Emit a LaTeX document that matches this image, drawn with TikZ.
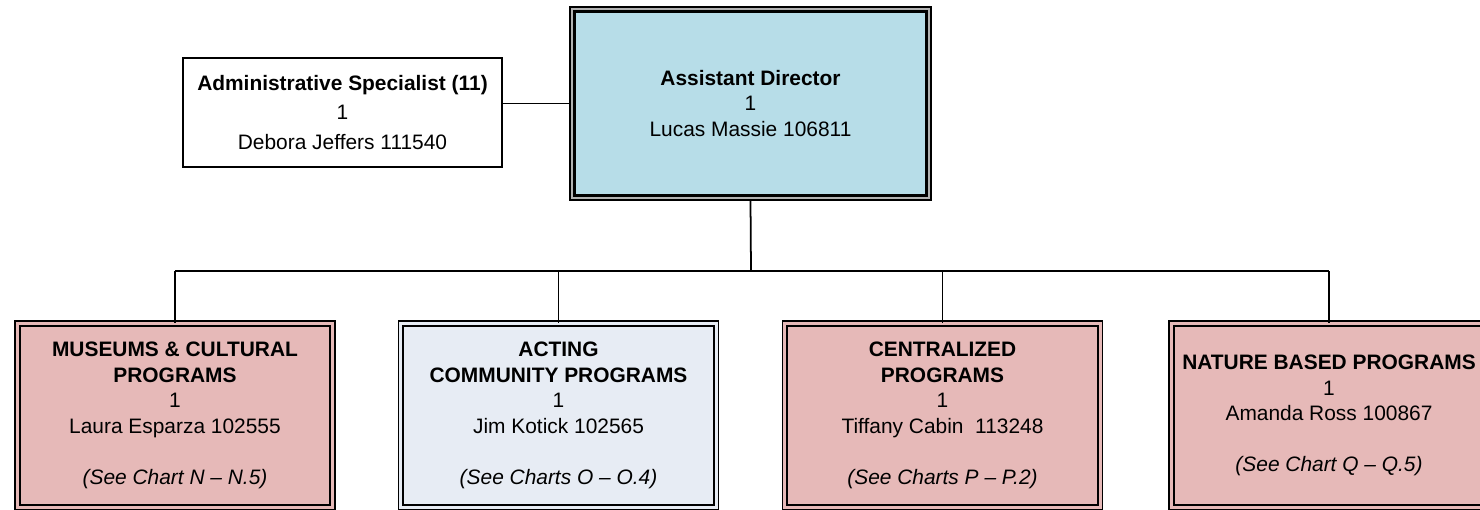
\documentclass[tikz,border=0pt]{standalone}
\usepackage{fontspec}
\setmainfont{Liberation Sans}
\definecolor{headblue}{HTML}{B7DDE8}
\definecolor{unitpink}{HTML}{E6B9B8}
\definecolor{actinggray}{HTML}{E7ECF4}
\begin{document}
\begin{tikzpicture}[x=0.02cm, y=0.02cm,
        every node/.style={align=center, inner sep=0pt, font=\fontsize{11.9}{14.3}\selectfont},
        headbox/.style={draw=black, fill=headblue, line width=2.6pt, minimum width=7.17cm, minimum height=3.81cm},
        sidebox/.style={draw=black, fill=white, line width=0.9pt, minimum width=6.39cm, minimum height=2.19cm, font=\fontsize{11.9}{17}\selectfont},
        unitbox/.style={draw=black, fill=#1, double=#1, line width=1pt, double distance=1.7pt, minimum width=6.31cm, minimum height=3.68cm, font=\fontsize{11.9}{14.5}\selectfont},
        link/.style={line width=1pt}]
    \useasboundingbox (0,0) rectangle (1480,510);
    \clip (0,0) rectangle (1480,510);

    \node[headbox] (ad) at (750.5,406.5) {\textbf{Assistant Director}\\1\\Lucas Massie 106811};
    \draw[black!30, line width=1.1pt] ([shift={(1.9pt,1.9pt)}]ad.south west) rectangle ([shift={(-1.9pt,-1.9pt)}]ad.north east);
    \draw[line width=1.5pt] ([shift={(3.2pt,3.2pt)}]ad.south west) rectangle ([shift={(-3.2pt,-3.2pt)}]ad.north east);
    \node[sidebox] (admin) at (342.5,397.5) {\textbf{Administrative Specialist (11)}\\1\\Debora Jeffers 111540};

    \node[unitbox=unitpink] (museums) at (175,94.6) {\textbf{MUSEUMS \& CULTURAL}\\\textbf{PROGRAMS}\\1\\Laura Esparza 102555\\[14.5pt]\textit{(See Chart N -- N.5)}};
    \node[unitbox=actinggray] (community) at (558.5,94.6) {\textbf{ACTING}\\\textbf{COMMUNITY PROGRAMS}\\1\\Jim Kotick 102565\\[14.5pt]\textit{(See Charts O -- O.4)}};
    \node[unitbox=unitpink] (central) at (942.5,94.6) {\textbf{CENTRALIZED}\\\textbf{PROGRAMS}\\1\\Tiffany Cabin~~113248\\[14.5pt]\textit{(See Charts P -- P.2)}};
    \node[unitbox=unitpink] (nature) at (1329,94.6) {\textbf{NATURE BASED PROGRAMS}\\1\\Amanda Ross 100867\\[14.5pt]\textit{(See Chart Q -- Q.5)}};

    \coordinate (bus) at (751,239);

    \draw[link] (ad.west) -- (ad.west -| admin.east);
    \draw[link] (ad.south) -- (bus);
    \draw[link] (museums.north |- bus) -- (nature.north |- bus);
    \foreach \u in {museums,community,central,nature}
        \draw[link] (\u.north) -- (\u.north |- bus);
\end{tikzpicture}
\end{document}
